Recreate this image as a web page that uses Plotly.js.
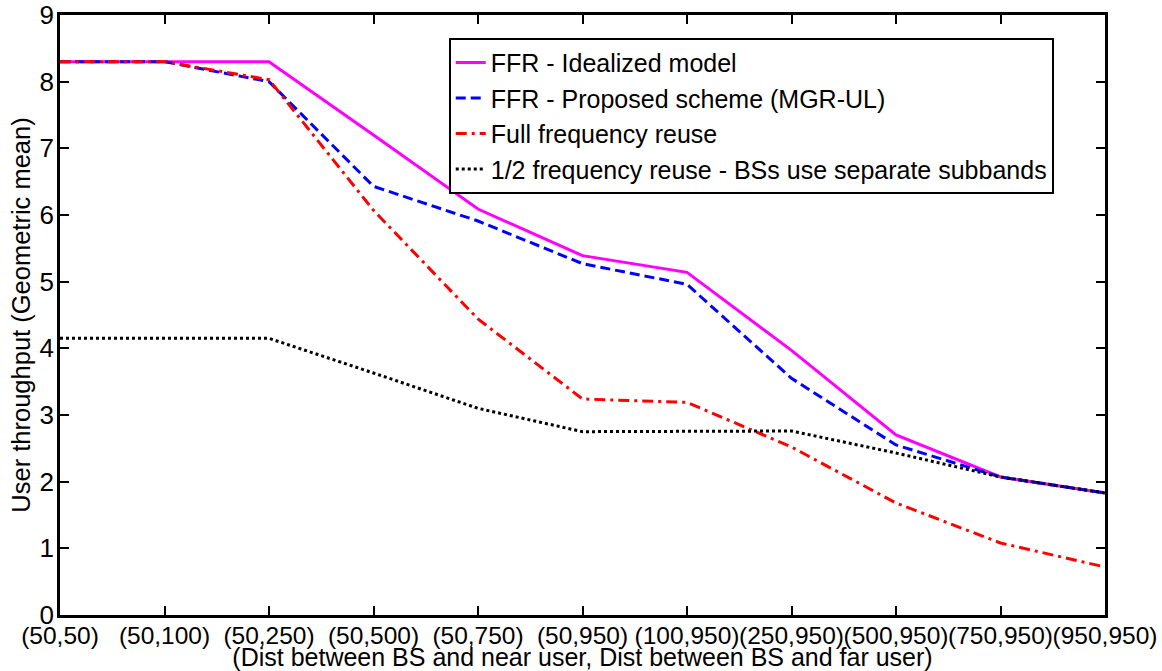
<!DOCTYPE html>
<html><head><meta charset="utf-8">
<script src="https://cdn.plot.ly/plotly-3.0.1.min.js"></script>
<style>body{margin:0;background:#fff}#c{width:1162px;height:671px}</style>
</head><body><div id="c"></div>
<script>
const categories = ["(50,50)","(50,100)","(50,250)","(50,500)","(50,750)","(50,950)","(100,950)","(250,950)","(500,950)","(750,950)","(950,950)"];
const ffrIdeal = [8.3, 8.3, 8.3, 7.2, 6.09, 5.39, 5.14, 3.97, 2.7, 2.07, 1.83];
const ffrProposed = [8.3, 8.3, 8.0, 6.43, 5.91, 5.27, 4.96, 3.55, 2.55, 2.07, 1.83];
const fullReuse = [8.3, 8.3, 8.03, 6.07, 4.44, 3.24, 3.19, 2.52, 1.68, 1.08, 0.72];
const halfReuse = [4.15, 4.15, 4.15, 3.63, 3.1, 2.75, 2.76, 2.76, 2.43, 2.07, 1.83];
const names = ["FFR - Idealized model","FFR - Proposed scheme (MGR-UL)","Full frequency reuse","1/2 frequency reuse - BSs use separate subbands"];

const x = categories.map((c,i)=>i);
const traces = [
  {x, y: ffrIdeal, name: names[0], mode:"lines", line:{color:"#ff00ff", width:3}},
  {x, y: ffrProposed, name: names[1], mode:"lines", line:{color:"#0000ff", width:3, dash:"10px,5px"}},
  {x, y: fullReuse, name: names[2], mode:"lines", line:{color:"#ff0000", width:3, dash:"11px,5px,3px,5px"}},
  {x, y: halfReuse, name: names[3], mode:"lines", line:{color:"#000000", width:3, dash:"3px,3px"}}
];
const fam = "Liberation Sans, Arial, Helvetica, sans-serif";
const layout = {
  width:1162, height:671,
  margin:{l:60, r:57, t:15, b:56},
  paper_bgcolor:"#fff", plot_bgcolor:"#fff",
  font: {family:fam, size:20, color:"#000"},
  showlegend:true,
  legend:{x:0.372, y:0.962, xanchor:"left", yanchor:"top", bgcolor:"#fff", bordercolor:"#000", borderwidth:2,
          font:{family:fam, size:25, color:"#000"}, tracegroupgap:0, itemwidth:30},
  xaxis:{
    range:[0,10], tickmode:"array", tickvals:x, ticktext:categories, tickangle:0,
    showgrid:false, zeroline:false, showline:true, linecolor:"#000", linewidth:2.5, mirror:"ticks",
    ticks:"inside", ticklen:9, tickwidth:2, tickcolor:"#000",
    tickfont:{family:fam, size:24.5, color:"#000"}, ticklabelstandoff:-3,
    title:{text:"(Dist between BS and near user, Dist between BS and far user)", standoff:4, font:{family:fam, size:25, color:"#000"}}
  },
  yaxis:{
    range:[0,9], dtick:1, tick0:0,
    showgrid:false, zeroline:false, showline:true, linecolor:"#000", linewidth:2.5, mirror:"ticks",
    ticks:"inside", ticklen:9, tickwidth:2, tickcolor:"#000",
    tickfont:{family:fam, size:26, color:"#000"}, ticklabelstandoff:-2,
    title:{text:"User throughput (Geometric mean)", standoff:2, font:{family:fam, size:25.5, color:"#000"}}
  }
};
Plotly.newPlot("c", traces, layout, {displayModeBar:false});
</script></body></html>
